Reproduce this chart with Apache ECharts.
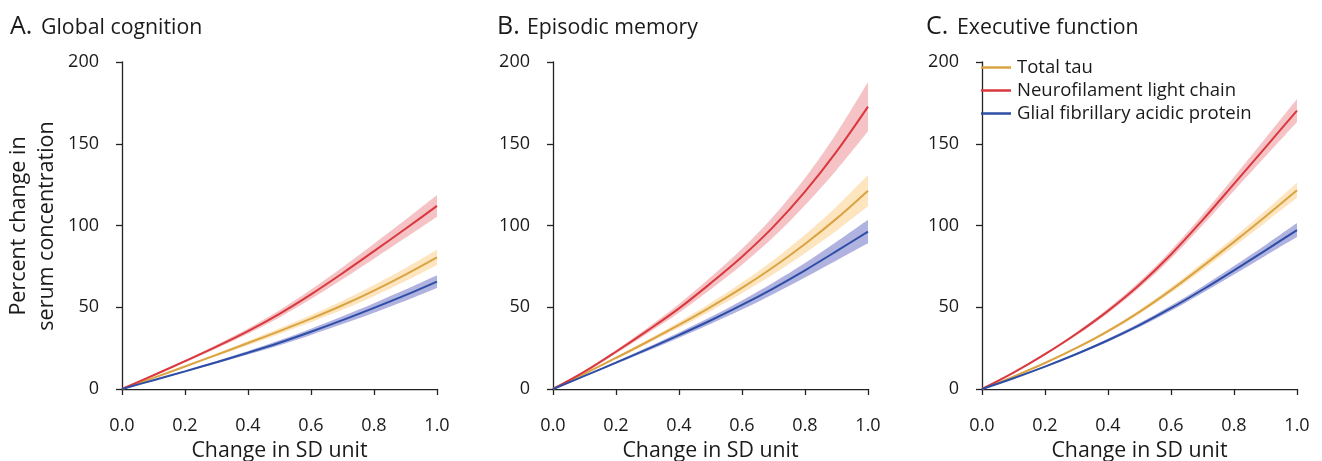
<!DOCTYPE html>
<html><head><meta charset="utf-8">
<script src="https://cdn.jsdelivr.net/npm/echarts@6/dist/echarts.min.js"></script>
<style>html,body{margin:0;padding:0;background:#fff}#c{width:1322px;height:461px}</style>
</head><body><div id="c"></div>
<script>
const xs = [0, 0.1, 0.2, 0.3, 0.4, 0.5, 0.6, 0.7, 0.8, 0.9, 1.0];
const yTicks = [0, 50, 100, 150, 200];
const xTicks = ['0.0', '0.2', '0.4', '0.6', '0.8', '1.0'];
const panelTitles = ['Global cognition', 'Episodic memory', 'Executive function'];
const panelLetters = ['A.', 'B.', 'C.'];
const seriesNames = ['Total tau', 'Neurofilament light chain', 'Glial fibrillary acidic protein'];

// Panel A — Global cognition
const aTauMid  = [0, 6.8, 13.8, 20.9, 28.1, 35.4, 43.0, 51.2, 60.2, 70.0, 80.5];
const aTauLow  = [0, 6.6, 13.3, 20.0, 26.8, 33.7, 40.8, 48.4, 56.8, 66.0, 75.9];
const aTauUp   = [0, 7.0, 14.3, 21.8, 29.4, 37.1, 45.2, 54.0, 63.6, 74.0, 85.1];
const aNflMid  = [0, 8.4, 17.0, 25.9, 35.4, 46.0, 57.9, 70.8, 84.3, 98.0, 112.0];
const aNflLow  = [0, 8.1, 16.3, 24.8, 33.8, 43.8, 55.0, 67.1, 79.7, 92.5, 105.4];
const aNflUp   = [0, 8.7, 17.7, 27.0, 37.0, 48.2, 60.8, 74.5, 88.9, 103.5, 118.6];
const aGfapMid = [0, 5.4, 10.8, 16.4, 22.2, 28.3, 35.0, 42.1, 49.6, 57.4, 65.7];
const aGfapLow = [0, 5.2, 10.3, 15.6, 21.1, 26.8, 33.1, 39.7, 46.7, 54.0, 61.8];
const aGfapUp  = [0, 5.6, 11.3, 17.2, 23.3, 29.8, 36.9, 44.5, 52.5, 60.8, 69.6];

// Panel B — Episodic memory
const bTauMid  = [0, 9.3, 19.0, 28.9, 39.2, 50.1, 61.8, 74.6, 88.7, 104.2, 121.3];
const bTauLow  = [0, 9.0, 18.3, 27.7, 37.4, 47.6, 58.5, 70.3, 83.1, 96.8, 111.7];
const bTauUp   = [0, 9.6, 19.7, 30.1, 41.0, 52.6, 65.1, 78.9, 94.3, 111.6, 130.9];
const bNflMid  = [0, 10.6, 22.8, 35.7, 49.3, 64.6, 80.9, 99.3, 120.7, 145.2, 172.7];
const bNflLow  = [0, 10.1, 21.7, 33.9, 46.6, 60.9, 76.0, 92.9, 112.4, 134.0, 157.7];
const bNflUp   = [0, 11.1, 23.9, 37.5, 52.0, 68.3, 85.8, 105.7, 129.0, 156.4, 187.7];
const bGfapMid = [0, 8.0, 16.1, 24.4, 33.0, 41.9, 51.4, 61.6, 72.6, 84.3, 96.3];
const bGfapLow = [0, 7.7, 15.4, 23.3, 31.4, 39.8, 48.6, 58.1, 68.2, 78.6, 89.1];
const bGfapUp  = [0, 8.3, 16.8, 25.5, 34.6, 44.0, 54.2, 65.1, 77.0, 90.0, 103.5];

// Panel C — Executive function
const cTauMid  = [0, 7.6, 15.9, 25.1, 35.4, 47.2, 60.5, 75.0, 90.0, 105.5, 121.5];
const cTauLow  = [0, 7.4, 15.5, 24.4, 34.4, 45.9, 58.8, 72.8, 87.2, 101.9, 116.9];
const cTauUp   = [0, 7.8, 16.3, 25.8, 36.4, 48.5, 62.2, 77.2, 92.8, 109.1, 126.1];
const cNflMid  = [0, 10.0, 21.3, 33.8, 47.8, 63.8, 82.3, 103.3, 125.5, 147.8, 170.3];
const cNflLow  = [0, 9.7, 20.7, 32.8, 46.4, 61.9, 79.8, 100.1, 121.3, 142.3, 163.3];
const cNflUp   = [0, 10.3, 21.9, 34.8, 49.2, 65.7, 84.8, 106.5, 129.7, 153.3, 177.3];
const cGfapMid = [0, 6.6, 13.7, 21.4, 29.8, 39.1, 49.4, 60.7, 72.6, 84.8, 97.2];
const cGfapLow = [0, 6.4, 13.3, 20.8, 28.9, 37.9, 47.8, 58.7, 70.0, 81.5, 92.9];
const cGfapUp  = [0, 6.8, 14.1, 22.0, 30.7, 40.3, 51.0, 62.7, 75.2, 88.1, 101.5];

const panels = [
  [[aTauMid, aTauLow, aTauUp], [aNflMid, aNflLow, aNflUp], [aGfapMid, aGfapLow, aGfapUp]],
  [[bTauMid, bTauLow, bTauUp], [bNflMid, bNflLow, bNflUp], [bGfapMid, bGfapLow, bGfapUp]],
  [[cTauMid, cTauLow, cTauUp], [cNflMid, cNflLow, cNflUp], [cGfapMid, cGfapLow, cGfapUp]]
];

const lineColors = ['#d9a441', '#d9383e', '#2d4ea6'];
const bandColors = ['#fde5c0', '#f5c3c5', '#b0b2e0'];
const FONT = '"Open Sans", "Noto Sans", sans-serif';
const TXT = '#1a1a1a';
const SMOOTH = 0.35;

const gridLefts = [122, 553, 982];
const gridW = 315;

const grids = [], xAxes = [], yAxes = [], series = [], graphics = [];
// band draw order (top band first): NfL, tau, GFAP
const bandOrder = [1, 0, 2];
panels.forEach((p, gi) => {
  grids.push({left: gridLefts[gi], top: 62, width: gridW, height: 327,
    containLabel: false, outerBoundsMode: 'none'});
  xAxes.push({
    type: 'value', gridIndex: gi, min: 0, max: 1, interval: 0.2, offset: 15,
    name: 'Change in SD unit', nameLocation: 'middle', nameGap: 36,
    nameTextStyle: {fontFamily: FONT, fontSize: 21.3, color: TXT},
    axisLine: {show: true, lineStyle: {color: '#222', width: 1.3}},
    axisTick: {show: true, length: 6, lineStyle: {color: '#222', width: 1.3}},
    axisLabel: {fontFamily: FONT, fontSize: 18, color: TXT, margin: 13,
      formatter: v => xTicks[Math.round(v / 0.2)]},
    splitLine: {show: false}
  });
  yAxes.push({
    type: 'value', gridIndex: gi, min: 0, max: 200, interval: 50, offset: 13,
    axisLine: {show: true, lineStyle: {color: '#222', width: 1.3}},
    axisTick: {show: true, length: 6, lineStyle: {color: '#222', width: 1.3}},
    axisLabel: {fontFamily: FONT, fontSize: 18, color: TXT, margin: 10,
      formatter: v => String(yTicks[Math.round(v / 50)])},
    splitLine: {show: false}
  });
  // confidence bands: upper area in band colour, then lower area in white
  let z = 1;
  bandOrder.forEach(si => {
    const [mid, low, up] = p[si];
    series.push({
      type: 'line', name: 'up' + gi + si, xAxisIndex: gi, yAxisIndex: gi,
      data: xs.map((x, i) => [x, up[i]]), smooth: SMOOTH, symbol: 'none', silent: true,
      lineStyle: {width: 0, opacity: 0}, areaStyle: {color: bandColors[si], opacity: 1, origin: 'start'}, z: z++
    });
    series.push({
      type: 'line', name: 'lo' + gi + si, xAxisIndex: gi, yAxisIndex: gi,
      data: xs.map((x, i) => [x, low[i]]), smooth: SMOOTH, symbol: 'none', silent: true,
      lineStyle: {width: 0, opacity: 0}, areaStyle: {color: '#ffffff', opacity: 1, origin: 'start'}, z: z++
    });
  });
  p.forEach((s, si) => {
    const [mid] = s;
    series.push({
      type: 'line', name: seriesNames[si], xAxisIndex: gi, yAxisIndex: gi,
      data: xs.map((x, i) => [x, mid[i]]), smooth: SMOOTH, symbol: 'none',
      lineStyle: {color: lineColors[si], width: 2}, itemStyle: {color: lineColors[si]}, z: 20
    });
  });
});

const letterX = [10, 497, 926];
const titleX = [41, 527, 957];
letterX.forEach((x, i) => {
  graphics.push({
    type: 'text', x: x, y: 27,
    style: {text: panelLetters[i], fontFamily: FONT, fontSize: 25, fill: TXT, verticalAlign: 'middle'}
  });
  graphics.push({
    type: 'text', x: titleX[i], y: 28,
    style: {text: panelTitles[i], fontFamily: FONT, fontSize: 21.3, fill: TXT, verticalAlign: 'middle'}
  });
});
graphics.push({
  type: 'text', x: 33, y: 226, rotation: Math.PI / 2,
  style: {
    text: 'Percent change in\nserum concentration',
    fontFamily: FONT, fontSize: 21.5, fill: TXT, lineHeight: 28,
    align: 'center', verticalAlign: 'middle'
  }
});

const chart = echarts.init(document.getElementById('c'));
chart.setOption({
  animation: false,
  backgroundColor: '#fff',
  grid: grids, xAxis: xAxes, yAxis: yAxes, series: series,
  legend: {
    data: seriesNames, orient: 'vertical', left: 976, top: 53,
    icon: 'rect', itemWidth: 30, itemHeight: 2.5, itemGap: 4,
    textStyle: {fontFamily: FONT, fontSize: 18.5, color: TXT, lineHeight: 18.5, padding: [0, 0, 0, 1]},
    selectedMode: false
  },
  graphic: graphics
});
</script></body></html>
